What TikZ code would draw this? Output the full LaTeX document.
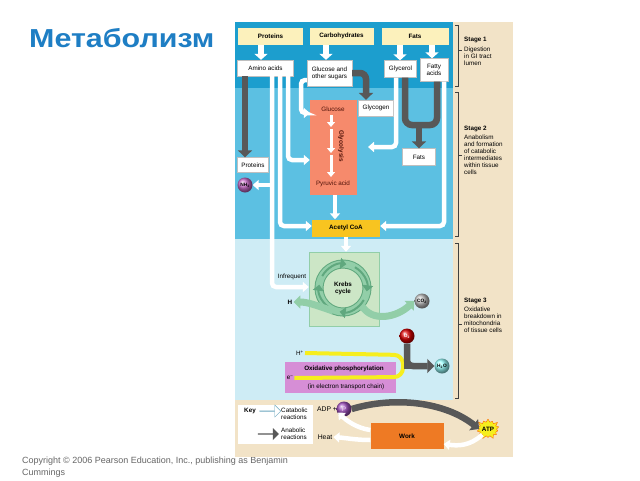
\documentclass[tikz,border=0pt]{standalone}
\usepackage{fontspec}
\setmainfont{Liberation Sans}
\usetikzlibrary{arrows.meta,shapes.symbols,shapes.arrows}
\definecolor{stageone}{RGB}{28,158,206}
\definecolor{stagetwo}{RGB}{92,192,226}
\definecolor{stagethree}{RGB}{206,236,245}
\definecolor{sand}{RGB}{242,227,199}
\definecolor{paleyellow}{RGB}{252,241,188}
\definecolor{arrowgray}{RGB}{88,88,88}
\definecolor{salmon}{RGB}{246,138,108}
\definecolor{acetylgold}{RGB}{248,196,32}
\definecolor{krebsbg}{RGB}{204,230,198}
\definecolor{ringfill}{RGB}{146,206,168}
\definecolor{ringedge}{RGB}{96,168,126}
\definecolor{oxpurple}{RGB}{214,142,214}
\definecolor{workorange}{RGB}{238,122,36}
\definecolor{titleblue}{RGB}{30,126,196}
\definecolor{glucred}{RGB}{80,18,8}
\definecolor{hiyellow}{RGB}{246,238,30}
\definecolor{nhpurple}{RGB}{204,110,204}
\definecolor{phpurple}{RGB}{160,80,190}
\newcommand\figfont{\fontsize{6.3}{7}\selectfont}
\tikzset{
  srcbox/.style={fill=paleyellow, minimum height=17pt, inner sep=1pt, font=\figfont\bfseries},
  molbox/.style={fill=white, draw=black!25, line width=0.3pt, inner sep=1pt, align=center, font=\figfont},
  srcarrow/.style={white, line width=6pt, -{Triangle[width=13pt,length=6pt]}},
  catab/.style={white, line width=4.5pt, rounded corners=4pt, -{Triangle[width=10pt,length=6pt]}},
  gluarrow/.style={white, line width=3pt, -{Triangle[width=8pt,length=5pt]}},
  anab/.style={arrowgray, line width=6.5pt, rounded corners=6pt, -{Triangle[width=14pt,length=7pt]}},
  anabbar/.style={arrowgray, line width=6.5pt, rounded corners=7pt},
  ball/.style={circle, minimum size=15pt, inner sep=0pt, font=\fontsize{4.8}{5}\selectfont\bfseries},
  ringarrow/.style={ringedge, line width=2pt, -{Triangle[width=11pt,length=6pt]}},
  ringtail/.style={ringfill, line width=7pt, -{Triangle[width=13pt,length=7pt]}},
  bracketline/.style={line width=0.6pt, black!75},
  stagetext/.style={anchor=north west, align=left, inner sep=0pt, font=\figfont},
}

\begin{document}
\begin{tikzpicture}[x=1pt,y=-1pt]
\useasboundingbox (0,0) rectangle (640,480);
\fill[white] (0,0) rectangle (640,480);
\node[anchor=base west, inner sep=0pt, font=\fontsize{26}{26}\selectfont\bfseries, text=titleblue] (title) at (29,47) {\scalebox{1.17}[1]{Метаболизм}};
\node[anchor=north west, inner sep=0pt, align=left, font=\fontsize{9}{12}\selectfont, text=black!60] (copyright) at (22,457) {Copyright © 2006 Pearson Education, Inc., publishing as Benjamin\\Cummings};
\fill[stageone] (235,22) rectangle (453,88);
\fill[stagetwo] (235,88) rectangle (453,239);
\fill[stagethree] (235,239) rectangle (453,400);
\fill[sand] (453,22) rectangle (513,457);
\fill[sand] (235,400) rectangle (453,457);
\draw[bracketline] (455,25) -- (458,25) -- (458,86) -- (455,86);
\draw[bracketline] (458,50) -- (462,50);
\draw[bracketline] (455,92) -- (458,92) -- (458,236) -- (455,236);
\draw[bracketline] (458,155) -- (462,155);
\draw[bracketline] (455,243) -- (458,243) -- (458,398) -- (455,398);
\draw[bracketline] (458,324) -- (462,324);
\node[stagetext] (stageone) at (464,37) {\textbf{Stage 1}\\[2.6pt]Digestion\\in GI tract\\lumen};
\node[stagetext] (stagetwo) at (464,126) {\textbf{Stage 2}\\[1.4pt]Anabolism\\and formation\\of catabolic\\intermediates\\within tissue\\cells};
\node[stagetext] (stagethree) at (464,298) {\textbf{Stage 3}\\[1.4pt]Oxidative\\breakdown in\\mitochondria\\of tissue cells};
\node[srcbox, minimum width=65pt] (protsrc) at (270.5,36) {Proteins};
\node[srcbox, minimum width=64pt] (carbsrc) at (341.5,36) {Carbohydrates};
\node[srcbox, minimum width=67pt] (fatsrc) at (415,36) {Fats};
\node[molbox, minimum width=56pt, minimum height=16pt] (amino) at (265.5,68) {Amino acids};
\node[molbox, minimum width=45pt, minimum height=26pt] (sugars) at (329.5,73) {Glucose and\\other sugars};
\node[molbox, minimum width=32pt, minimum height=17pt] (glycerol) at (400.5,69) {Glycerol};
\node[molbox, minimum width=28pt, minimum height=23pt] (fatty) at (434,70) {Fatty\\acids};
\node[molbox, minimum width=31pt, minimum height=15pt] (protein) at (253,165) {Proteins};
\node[molbox, minimum width=35pt, minimum height=16pt] (glycogen) at (376,108) {Glycogen};
\node[molbox, minimum width=33pt, minimum height=17pt] (fatstore) at (419,157) {Fats};
\node[fill=salmon, minimum width=47pt, minimum height=95pt] (glucose) at (333.5,147.5) {};
\node[font=\figfont, text=glucred, inner sep=1pt] (glucname) at (333,109) {Glucose};
\node[font=\figfont, text=glucred, inner sep=1pt] (pyruvic) at (333,184) {Pyruvic acid};
\node[font=\figfont\bfseries, text=glucred, rotate=-90, inner sep=1pt] (glycolysis) at (341,146) {Glycolysis};
\node[fill=acetylgold, minimum width=68pt, minimum height=17pt, font=\figfont\bfseries] (acetyl) at (346,228) {Acetyl CoA};
\node[fill=krebsbg, draw=ringfill, line width=0.4pt, minimum width=70pt, minimum height=74pt] (krebs) at (344,289) {};
\node[ball, shading=ball, ball color=nhpurple] (nh3) at (245,185) {NH\textsubscript{3}};
\draw[srcarrow] (261,0 |- protsrc.south) -- (261,0 |- amino.north);
\draw[srcarrow] (326,0 |- carbsrc.south) -- (326,0 |- sugars.north);
\draw[srcarrow] (400,0 |- fatsrc.south) -- (400,0 |- glycerol.north);
\draw[srcarrow] (432,0 |- fatsrc.south) -- (432,0 |- fatty.north);
\draw[anab] (245,0 |- amino.south) -- (245,0 |- protein.north);
\draw[anab] (sugars.east |- 0,73) -- (366,73) -- (366,0 |- glycogen.north);
\draw[anabbar] (405,0 |- glycerol.south) -- (405,125) -- (437,125) -- (437,0 |- fatty.south);
\draw[anab] (419,125) -- (fatstore.north);
\draw[catab] (288,0 |- amino.south) -- (288,160) -- (glucose.west |- 0,160);
\draw[catab] (280,0 |- amino.south) -- (280,226) -- (acetyl.west |- 0,226);
\draw[catab] (272,0 |- amino.south) -- (272,287) -- (krebs.west |- 0,287);
\draw[catab] (270,185) -- (nh3.east);
\draw[catab] (sugars.west |- 0,80) -- (301,80) -- (301,113) -- (glucose.west |- 0,113);
\coordinate (glyctip) at (368,147);
\draw[catab] (396,0 |- glycerol.south) -- (396,147) -- (glyctip);
\draw[catab] (444,0 |- fatty.south) -- (444,226) -- (acetyl.east |- 0,226);
\draw[gluarrow] (331,115) -- (331,127);
\draw[gluarrow] (331,129) -- (331,153);
\draw[gluarrow] (331,155) -- (331,177);
\draw[catab] (335,0 |- glucose.south) -- (335,0 |- acetyl.north);
\draw[catab] (346,0 |- acetyl.south) -- (346,0 |- krebs.north);
\node[font=\figfont, inner sep=1pt] (infrequent) at (292,277) {Infrequent};
\node[font=\figfont\bfseries, inner sep=1pt] (hion) at (290,302) {H};
\node[ball, shading=ball, ball color=black!25] (co2) at (422,301) {CO\textsubscript{2}};
\draw[ringedge, line width=9pt] (343,288) circle (24);
\draw[ringfill, line width=7pt] (343,288) circle (24);
\draw[ringarrow] (343,288) ++(-150:24) arc (-150:-82:24);
\draw[ringarrow] (343,288) ++(-60:24) arc (-60:8:24);
\draw[ringarrow] (343,288) ++(30:24) arc (30:98:24);
\draw[ringarrow] (343,288) ++(120:24) arc (120:188:24);
\draw[ringtail] (333,311) .. controls (318,306) and (308,302) .. (hion.east);
\draw[ringtail] (362,306) .. controls (372,322) and (396,318) .. (co2.west);
\node[font=\figfont\bfseries, align=center] (krebsname) at (343,288) {Krebs\\cycle};
\node[ball, shading=ball, ball color=red!85!black, text=white] (o2) at (407,336) {O\textsubscript{2}};
\node[ball, shading=ball, ball color=cyan!40] (h2o) at (442,366) {H\textsubscript{2}O};
\node[fill=oxpurple, minimum width=111pt, minimum height=31pt] (oxphos) at (340.5,377.5) {};
\node[font=\figfont, inner sep=1pt] (hplus) at (300,353) {H\textsuperscript{+}};
\node[font=\figfont, inner sep=1pt] (eminus) at (290,378) {e\textsuperscript{–}};
\draw[hiyellow, line width=4pt, rounded corners=9pt] (hplus.east) -- (403,355) -- (403,377) -- (eminus.east);
\node[font=\figfont\bfseries, inner sep=1pt] (oxname) at (344,369) {Oxidative phosphorylation};
\node[font=\figfont, inner sep=1pt] (oxchain) at (346,387) {(in electron transport chain)};
\draw[anab] (o2.south) |- (h2o.west);
\draw[anabbar] (404,366) -- (412,366);
\node[fill=white, minimum width=75pt, minimum height=39pt] (keybox) at (275.5,424) {};
\node[font=\figfont\bfseries, inner sep=1pt] (keyname) at (250,411) {Key};
\node[single arrow, draw=cyan!45!gray, fill=white, minimum height=21pt, minimum width=12pt, single arrow head extend=2pt, inner sep=0pt] (catkey) at (270,411) {};
\node[single arrow, fill=arrowgray, minimum height=21pt, minimum width=12pt, single arrow head extend=2pt, inner sep=0pt] (anakey) at (268,434) {};
\node[stagetext, anchor=west] (catname) at (281,414) {Catabolic\\reactions};
\node[stagetext, anchor=west] (ananame) at (281,434) {Anabolic\\reactions};
\node[font=\fontsize{6.8}{7}\selectfont, inner sep=1pt] (adp) at (327,409) {ADP +};
\node[ball, shading=ball, ball color=phpurple, text=white!85!violet, font=\fontsize{6.5}{7}\selectfont] (phos) at (344,409) {P};
\node[font=\fontsize{6.8}{7}\selectfont, inner sep=1pt] (heat) at (325,437) {Heat};
\node[fill=workorange, minimum width=73pt, minimum height=26pt, font=\figfont\bfseries] (work) at (407,436) {Work};
\node[starburst, starburst points=14, starburst point height=4pt, fill=hiyellow, draw=orange!80!red, line width=0.4pt, minimum width=24pt, minimum height=22pt, inner sep=0pt, font=\figfont\bfseries] (atp) at (488,429) {ATP};
\draw[anab] (phos.east) .. controls (395,396) and (445,402) .. (atp.west);
\draw[catab] (atp.south west) .. controls (470,446) and (458,446) .. (work.east |- 0,444);
\draw[catab] (work.west |- 0,430) .. controls (356,428) and (346,420) .. (adp.south east);
\draw[catab] (work.west |- 0,440) .. controls (356,440) and (346,438) .. (heat.east);
\end{tikzpicture}
\end{document}
